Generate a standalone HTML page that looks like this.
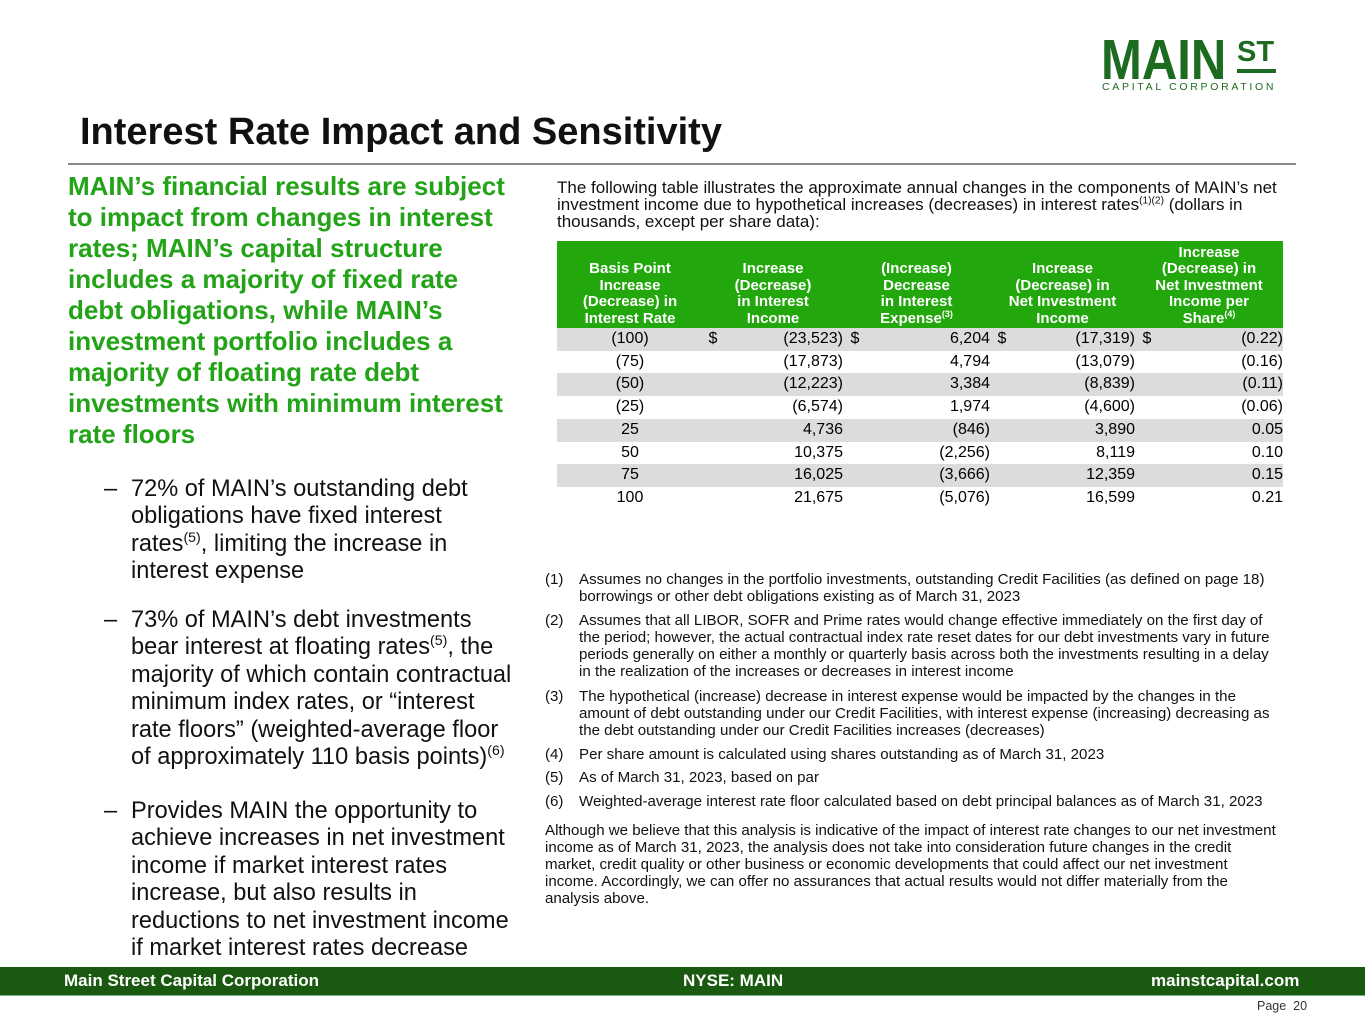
<!DOCTYPE html>
<html><head><meta charset="utf-8"><style>
body{margin:0;width:1365px;height:1024px;position:relative;background:#fff;font-family:"Liberation Sans",Arial,sans-serif;overflow:hidden;color:#000}
.a{position:absolute;white-space:nowrap}
.h{font-size:26px;font-weight:bold;color:#23a317;line-height:31px;left:68px;top:171px}
.b{font-size:23.6px;color:#111;line-height:27.4px}
.fn{font-size:15.1px;line-height:17px;color:#111}
sup{font-size:60%;line-height:0}
table{position:absolute;left:557px;top:241px;width:726px;border-collapse:collapse;font-size:16px}
th{background:#22a80c;color:#fff;font-weight:bold;font-size:15px;line-height:16.5px;height:86px;vertical-align:bottom;padding:0 2px 1px;text-align:center}
td{height:22.7px;padding:0;line-height:22.7px}
tr.g td{background:#dcdcdc}
.c{text-align:center}.r{text-align:right}
</style></head><body>
<div class="a" style="left:1101px;top:30px;font-size:57px;font-weight:bold;color:#1d6b21;line-height:60px;transform:scaleX(0.86);transform-origin:0 0">MAIN</div>
<div class="a" style="left:1237px;top:37px;font-size:29px;font-weight:bold;color:#1d6b21;line-height:30px">ST</div>
<div class="a" style="left:1237px;top:69px;width:39px;height:4px;background:#1d6b21"></div>
<div class="a" style="left:1102px;top:81px;font-size:10.5px;letter-spacing:2.7px;color:#1d6b21">CAPITAL CORPORATION</div>

<div class="a" style="left:80px;top:111px;font-size:38px;font-weight:bold;color:#111">Interest Rate Impact and Sensitivity</div>
<div class="a" style="left:68px;top:163px;width:1228px;height:2px;background:#888"></div>

<div class="a h">MAIN’s financial results are subject<br>to impact from changes in interest<br>rates; MAIN’s capital structure<br>includes a majority of fixed rate<br>debt obligations, while MAIN’s<br>investment portfolio includes a<br>majority of floating rate debt<br>investments with minimum interest<br>rate floors</div>

<div class="a b" style="left:104px;top:476px">–</div>
<div class="a b" style="left:131px;top:476px">72% of MAIN’s outstanding debt<br>obligations have fixed interest<br>rates<sup>(5)</sup>, limiting the increase in<br>interest expense</div>
<div class="a b" style="left:104px;top:607px">–</div>
<div class="a b" style="left:131px;top:607px">73% of MAIN’s debt investments<br>bear interest at floating rates<sup>(5)</sup>, the<br>majority of which contain contractual<br>minimum index rates, or “interest<br>rate floors” (weighted-average floor<br>of approximately 110 basis points)<sup>(6)</sup></div>
<div class="a b" style="left:104px;top:798px">–</div>
<div class="a b" style="left:131px;top:798px">Provides MAIN the opportunity to<br>achieve increases in net investment<br>income if market interest rates<br>increase, but also results in<br>reductions to net investment income<br>if market interest rates decrease</div>

<div class="a" style="left:557px;top:179px;font-size:17px;line-height:17px;color:#111">The following table illustrates the approximate annual changes in the components of MAIN’s net<br>investment income due to hypothetical increases (decreases) in interest rates<sup>(1)(2)</sup> (dollars in<br>thousands, except per share data):</div>

<table>
<colgroup><col style="width:146px"><col style="width:20px"><col style="width:120px"><col style="width:24px"><col style="width:123px"><col style="width:24px"><col style="width:121px"><col style="width:24px"><col style="width:124px"></colgroup>
<tr><th>Basis Point<br>Increase<br>(Decrease) in<br>Interest Rate</th><th colspan="2">Increase<br>(Decrease)<br>in Interest<br>Income</th><th colspan="2">(Increase)<br>Decrease<br>in Interest<br>Expense<sup>(3)</sup></th><th colspan="2">Increase<br>(Decrease) in<br>Net Investment<br>Income</th><th colspan="2">Increase<br>(Decrease) in<br>Net Investment<br>Income per<br>Share<sup>(4)</sup></th></tr>
<tr class="g"><td class="c">(100)</td><td class="c">$</td><td class="r">(23,523)</td><td class="c">$</td><td class="r">6,204</td><td class="c">$</td><td class="r">(17,319)</td><td class="c">$</td><td class="r">(0.22)</td></tr>
<tr><td class="c">(75)</td><td></td><td class="r">(17,873)</td><td></td><td class="r">4,794</td><td></td><td class="r">(13,079)</td><td></td><td class="r">(0.16)</td></tr>
<tr class="g"><td class="c">(50)</td><td></td><td class="r">(12,223)</td><td></td><td class="r">3,384</td><td></td><td class="r">(8,839)</td><td></td><td class="r">(0.11)</td></tr>
<tr><td class="c">(25)</td><td></td><td class="r">(6,574)</td><td></td><td class="r">1,974</td><td></td><td class="r">(4,600)</td><td></td><td class="r">(0.06)</td></tr>
<tr class="g"><td class="c">25</td><td></td><td class="r">4,736</td><td></td><td class="r">(846)</td><td></td><td class="r">3,890</td><td></td><td class="r">0.05</td></tr>
<tr><td class="c">50</td><td></td><td class="r">10,375</td><td></td><td class="r">(2,256)</td><td></td><td class="r">8,119</td><td></td><td class="r">0.10</td></tr>
<tr class="g"><td class="c">75</td><td></td><td class="r">16,025</td><td></td><td class="r">(3,666)</td><td></td><td class="r">12,359</td><td></td><td class="r">0.15</td></tr>
<tr><td class="c">100</td><td></td><td class="r">21,675</td><td></td><td class="r">(5,076)</td><td></td><td class="r">16,599</td><td></td><td class="r">0.21</td></tr>
</table>

<div class="a fn" style="left:545px;top:571px">(1)</div>
<div class="a fn" style="left:579px;top:571px">Assumes no changes in the portfolio investments, outstanding Credit Facilities (as defined on page 18)<br>borrowings or other debt obligations existing as of March 31, 2023</div>
<div class="a fn" style="left:545px;top:612px">(2)</div>
<div class="a fn" style="left:579px;top:612px">Assumes that all LIBOR, SOFR and Prime rates would change effective immediately on the first day of<br>the period; however, the actual contractual index rate reset dates for our debt investments vary in future<br>periods generally on either a monthly or quarterly basis across both the investments resulting in a delay<br>in the realization of the increases or decreases in interest income</div>
<div class="a fn" style="left:545px;top:688px">(3)</div>
<div class="a fn" style="left:579px;top:688px">The hypothetical (increase) decrease in interest expense would be impacted by the changes in the<br>amount of debt outstanding under our Credit Facilities, with interest expense (increasing) decreasing as<br>the debt outstanding under our Credit Facilities increases (decreases)</div>
<div class="a fn" style="left:545px;top:746px">(4)</div>
<div class="a fn" style="left:579px;top:746px">Per share amount is calculated using shares outstanding as of March 31, 2023</div>
<div class="a fn" style="left:545px;top:769px">(5)</div>
<div class="a fn" style="left:579px;top:769px">As of March 31, 2023, based on par</div>
<div class="a fn" style="left:545px;top:793px">(6)</div>
<div class="a fn" style="left:579px;top:793px">Weighted-average interest rate floor calculated based on debt principal balances as of March 31, 2023</div>
<div class="a fn" style="left:545px;top:822px">Although we believe that this analysis is indicative of the impact of interest rate changes to our net investment<br>income as of March 31, 2023, the analysis does not take into consideration future changes in the credit<br>market, credit quality or other business or economic developments that could affect our net investment<br>income. Accordingly, we can offer no assurances that actual results would not differ materially from the<br>analysis above.</div>

<div class="a" style="left:0;top:967px;width:1365px;height:28px;background:#1a5a10"></div>
<div class="a" style="left:0;top:995px;width:1365px;height:1px;background:#7a9"></div>
<div class="a" style="left:64px;top:971px;font-size:17px;font-weight:bold;color:#fff">Main Street Capital Corporation</div>
<div class="a" style="left:683px;top:971px;font-size:17px;font-weight:bold;color:#fff">NYSE: MAIN</div>
<div class="a" style="left:1151px;top:971px;font-size:17px;font-weight:bold;color:#fff">mainstcapital.com</div>
<div class="a" style="left:1257px;top:999px;font-size:12.5px;color:#333">Page&nbsp; 20</div>
</body></html>
